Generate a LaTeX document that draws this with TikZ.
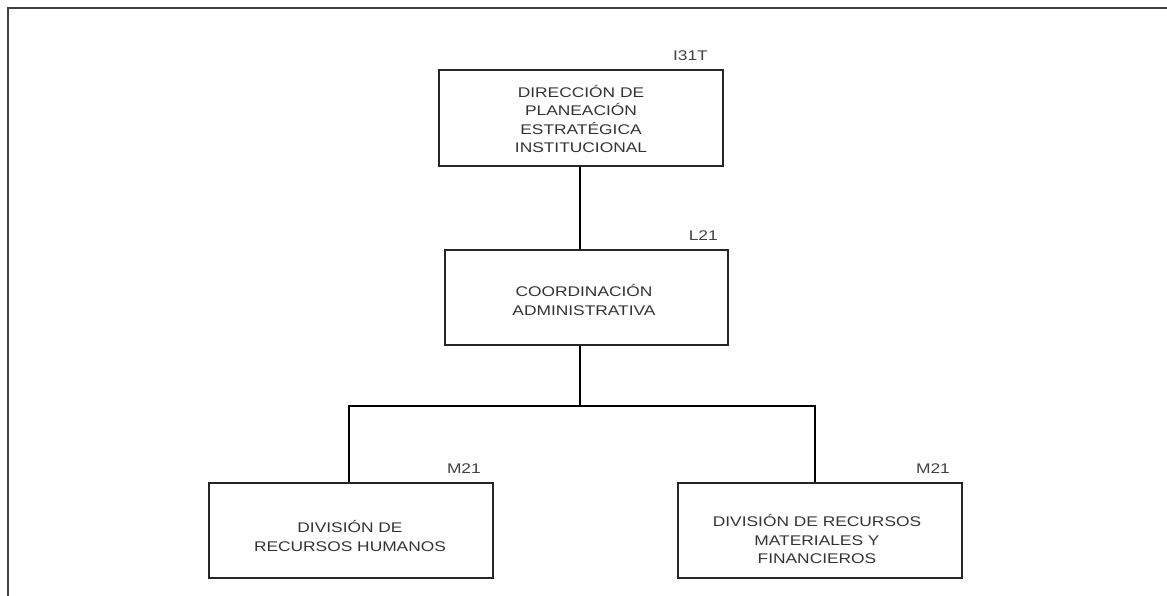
\documentclass[tikz,border=0pt]{standalone}
\usepackage{fontspec}
\setmainfont{Liberation Sans}[FakeStretch=1.24]
\usetikzlibrary{calc}
\begin{document}
\begin{tikzpicture}[x=1pt,y=-1pt,
  box/.style={draw=black!85, line width=1.6pt, rectangle, inner sep=0pt},
  txt/.style={text=black!80, align=center, font=\fontsize{14}{18.3}\selectfont, inner sep=0pt},
  code/.style={text=black!75, anchor=base east, font=\fontsize{14}{16}\selectfont, inner sep=0pt},
  conn/.style={draw=black, line width=2pt},
  frame/.style={draw=black!75, line width=2pt}]
\useasboundingbox (0,0) rectangle (1167,595);
% frame
\coordinate (fbl) at (8,596);
\coordinate (ftl) at (8,8);
\coordinate (ftr) at (1168,8);
\draw[frame] (fbl) -- (ftl) -- (ftr);
% boxes
\node[box, minimum width=284pt, minimum height=96pt] (b1) at (581,118) {};
\node[txt] (b1t) at (581,119) {DIRECCIÓN DE\\PLANEACIÓN\\ESTRATÉGICA\\INSTITUCIONAL};
\node[box, minimum width=283pt, minimum height=95pt] (b2) at (586.5,297.5) {};
\node[txt] (b2t) at (584,300) {COORDINACIÓN\\ADMINISTRATIVA};
\node[box, minimum width=284pt, minimum height=95pt] (b3) at (351,530.5) {};
\node[txt] (b3t) at (350,536) {DIVISIÓN DE\\RECURSOS HUMANOS};
\node[box, minimum width=284pt, minimum height=95pt] (b4) at (820,530.5) {};
\node[txt] (b4t) at (817,539) {DIVISIÓN DE RECURSOS\\MATERIALES Y\\FINANCIEROS};
% codes
\node[code] (c1) at (708,60) {I31T};
\node[code] (c2) at (718,240) {L21};
\node[code] (c3) at (481,473) {M21};
\node[code] (c4) at (950,473) {M21};
% connectors
\coordinate (jm) at (580,406);
\coordinate (jl) at (349,406);
\coordinate (jr) at (815,406);
\draw[conn] (b1.south -| jm) -- (b2.north -| jm);
\draw[conn] (b2.south -| jm) -- (jm);
\draw[conn] (b3.north -| jl) -- (jl) -- (jr) -- (b4.north -| jr);
\end{tikzpicture}
\end{document}
